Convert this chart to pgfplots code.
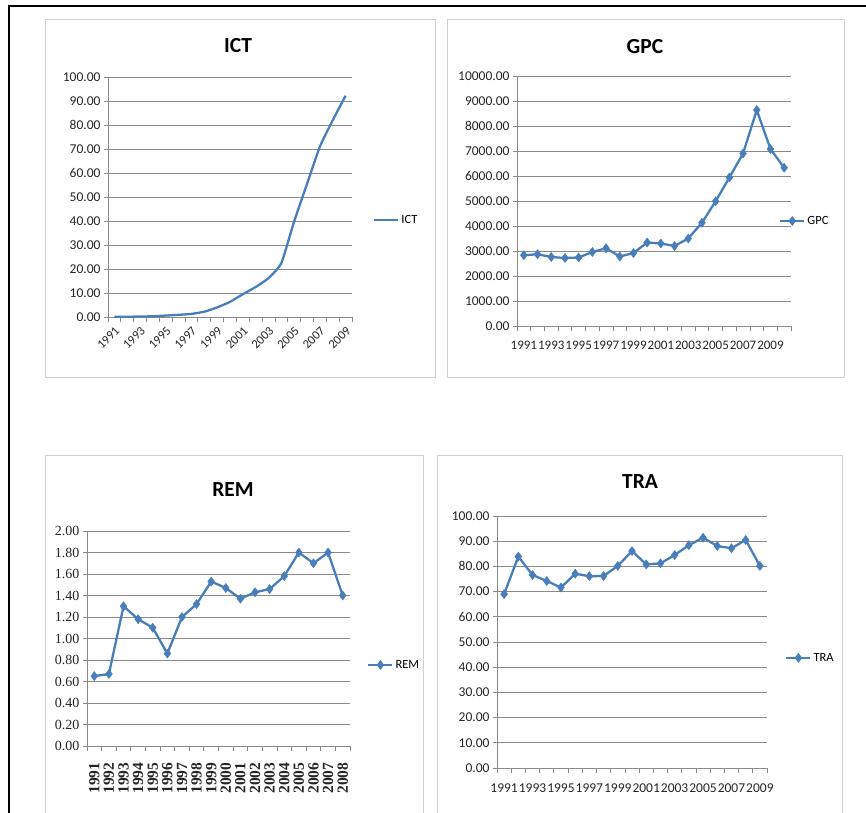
\documentclass[border=0pt]{standalone}
\usepackage{fontspec}
\setmainfont{Carlito}
\newfontfamily\serifr{Liberation Serif}
\newfontfamily\serifx{Liberation Serif}
\usepackage{pgfplots}
\pgfplotsset{compat=1.18}
\definecolor{xblue}{HTML}{4A7EBB}
\definecolor{gridc}{HTML}{8A8A8A}
\definecolor{framec}{HTML}{D0D0D0}

\pgfplotsset{
 excel/.style={
   scale only axis,
   anchor=south west,
   axis x line*=bottom, axis y line*=left,
   axis line style={gridc, line width=0.8pt},
   ymajorgrids, major grid style={gridc, line width=0.9pt},
   tick align=outside,
   major tick length=4pt, minor tick length=5pt,
   tick style={gridc, line width=0.8pt},
   major x tick style={draw=none},
   scaled y ticks=false,
   tick label style={font=\fontsize{13.5}{15}\selectfont, text=black!85},
   yticklabel style={/pgf/number format/fixed, /pgf/number format/fixed zerofill, /pgf/number format/precision=2, /pgf/number format/1000 sep={}, /pgf/number format/assume math mode=true},
   title style={font=\fontsize{21.5}{24}\selectfont\bfseries, anchor=center, yshift=-5pt},
   legend style={draw=none, fill=none, anchor=west, font=\fontsize{12.5}{14}\selectfont, inner sep=0pt, legend cell align=left},
   legend image code/.code={\draw[##1, mark repeat=2, mark phase=2] plot coordinates {(0pt,0pt) (12pt,0pt) (24pt,0pt)};},
   clip=false,
 },
 ser/.style={xblue, line width=2.3pt, mark=diamond*, mark size=4.5pt, mark options={solid, fill=xblue, line width=0.5pt}},
}

\pgfplotstableread{
x y
0 0.1
1 0.1
2 0.2
3 0.3
4 0.6
5 0.9
6 1.3
7 2.2
8 4.0
9 6.3
10 9.5
11 12.5
12 16.2
13 22.5
14 39.9
15 55.5
16 71.0
17 82.0
18 92.2
}\ictdata

\pgfplotstableread{
x y
0 2830
1 2870
2 2760
3 2720
4 2740
5 2960
6 3110
7 2780
8 2920
9 3340
10 3300
11 3200
12 3500
13 4130
14 4990
15 5940
16 6900
17 8640
18 7080
19 6330
}\gpcdata

\pgfplotstableread{
x y
0 0.65
1 0.67
2 1.30
3 1.18
4 1.10
5 0.86
6 1.20
7 1.32
8 1.53
9 1.47
10 1.37
11 1.43
12 1.46
13 1.58
14 1.80
15 1.70
16 1.80
17 1.40
}\remdata

\pgfplotstableread{
x y
0 69.0
1 83.9
2 76.6
3 74.2
4 71.6
5 77.1
6 76.1
7 76.2
8 80.2
9 86.1
10 80.8
11 81.2
12 84.5
13 88.4
14 91.4
15 88.1
16 87.2
17 90.5
18 80.2
}\tradata

\begin{document}
\begin{tikzpicture}[x=1pt,y=1pt]
\useasboundingbox (0,0) rectangle (866,812);
\fill[white] (0,0) rectangle (866,812);
\clip (0,0) rectangle (866,812);
\draw[black, line width=2pt] (9,-10) rectangle (880,806);
\draw[framec, line width=1pt] (45,435) rectangle (435,792);
\draw[framec, line width=1pt] (447,435) rectangle (844,792);
\draw[framec, line width=1pt] (45,-5) rectangle (423,357);
\draw[framec, line width=1pt] (437,-5) rectangle (842,357);

% ICT
\begin{axis}[excel, at={(108pt,495pt)}, width=244pt, height=240pt,
  xmin=-0.5, xmax=18.5, ymin=0, ymax=100,
  ytick={0,10,...,100},
  xtick={0,2,...,18},
  xticklabels={1991,1993,1995,1997,1999,2001,2003,2005,2007,2009},
  minor xtick={-0.5,0.5,...,18.5},
  xticklabel style={rotate=45, anchor=north east, font=\fontsize{12.5}{14}\selectfont},
  title={ICT}, title style={at={(axis description cs:0.533,1.129)}},
  legend style={at={(axis description cs:1.086,0.404)}}]
\addplot[xblue, line width=2.3pt, smooth, tension=0.3] table[x=x,y=y] {\ictdata};
\legend{ICT}
\end{axis}

% GPC
\begin{axis}[excel, at={(517pt,486pt)}, width=274pt, height=250pt,
  xmin=-0.5, xmax=19.5, ymin=0, ymax=10000,
  ytick={0,1000,...,10000},
  xtick={0,2,...,18},
  xticklabels={1991,1993,1995,1997,1999,2001,2003,2005,2007,2009},
  minor xtick={-0.5,0.5,...,19.5},
  xticklabel style={yshift=-8pt, font=\fontsize{13}{15}\selectfont},
  title={GPC}, title style={at={(axis description cs:0.467,1.112)}},
  legend style={at={(axis description cs:0.956,0.42)}}]
\addplot[ser] table[x=x,y=y] {\gpcdata};
\legend{GPC}
\end{axis}

% REM
\begin{axis}[excel, at={(87pt,66pt)}, width=263pt, height=215pt,
  xmin=-0.5, xmax=17.5, ymin=0, ymax=2,
  ytick={0,0.2,0.4,0.6,0.8,1.0,1.2,1.4,1.6,1.8,2.0},
  xtick={0,1,...,17},
  xticklabels={1991,1992,1993,1994,1995,1996,1997,1998,1999,2000,2001,2002,2003,2004,2005,2006,2007,2008},
  minor xtick={-0.5,0.5,...,17.5},
  yticklabel style={font=\serifr\fontsize{14}{16}\selectfont},
  xticklabel style={rotate=90, anchor=east, xshift=-9pt, font=\serifx\bfseries\fontsize{15.5}{17}\selectfont},
  title={REM}, title style={at={(axis description cs:0.555,1.19)}},
  legend style={at={(axis description cs:1.065,0.377)}}]
\addplot[ser] table[x=x,y=y] {\remdata};
\legend{REM}
\end{axis}

% TRA
\begin{axis}[excel, at={(497pt,44pt)}, width=270pt, height=252pt,
  xmin=-0.5, xmax=18.5, ymin=0, ymax=100,
  ytick={0,10,...,100},
  xtick={0,2,...,18},
  xticklabels={1991,1993,1995,1997,1999,2001,2003,2005,2007,2009},
  minor xtick={-0.5,0.5,...,18.5},
  xticklabel style={yshift=-8pt},
  title={TRA}, title style={at={(axis description cs:0.53,1.131)}},
  legend style={at={(axis description cs:1.067,0.437)}}]
\addplot[ser] table[x=x,y=y] {\tradata};
\legend{TRA}
\end{axis}
\end{tikzpicture}
\end{document}
